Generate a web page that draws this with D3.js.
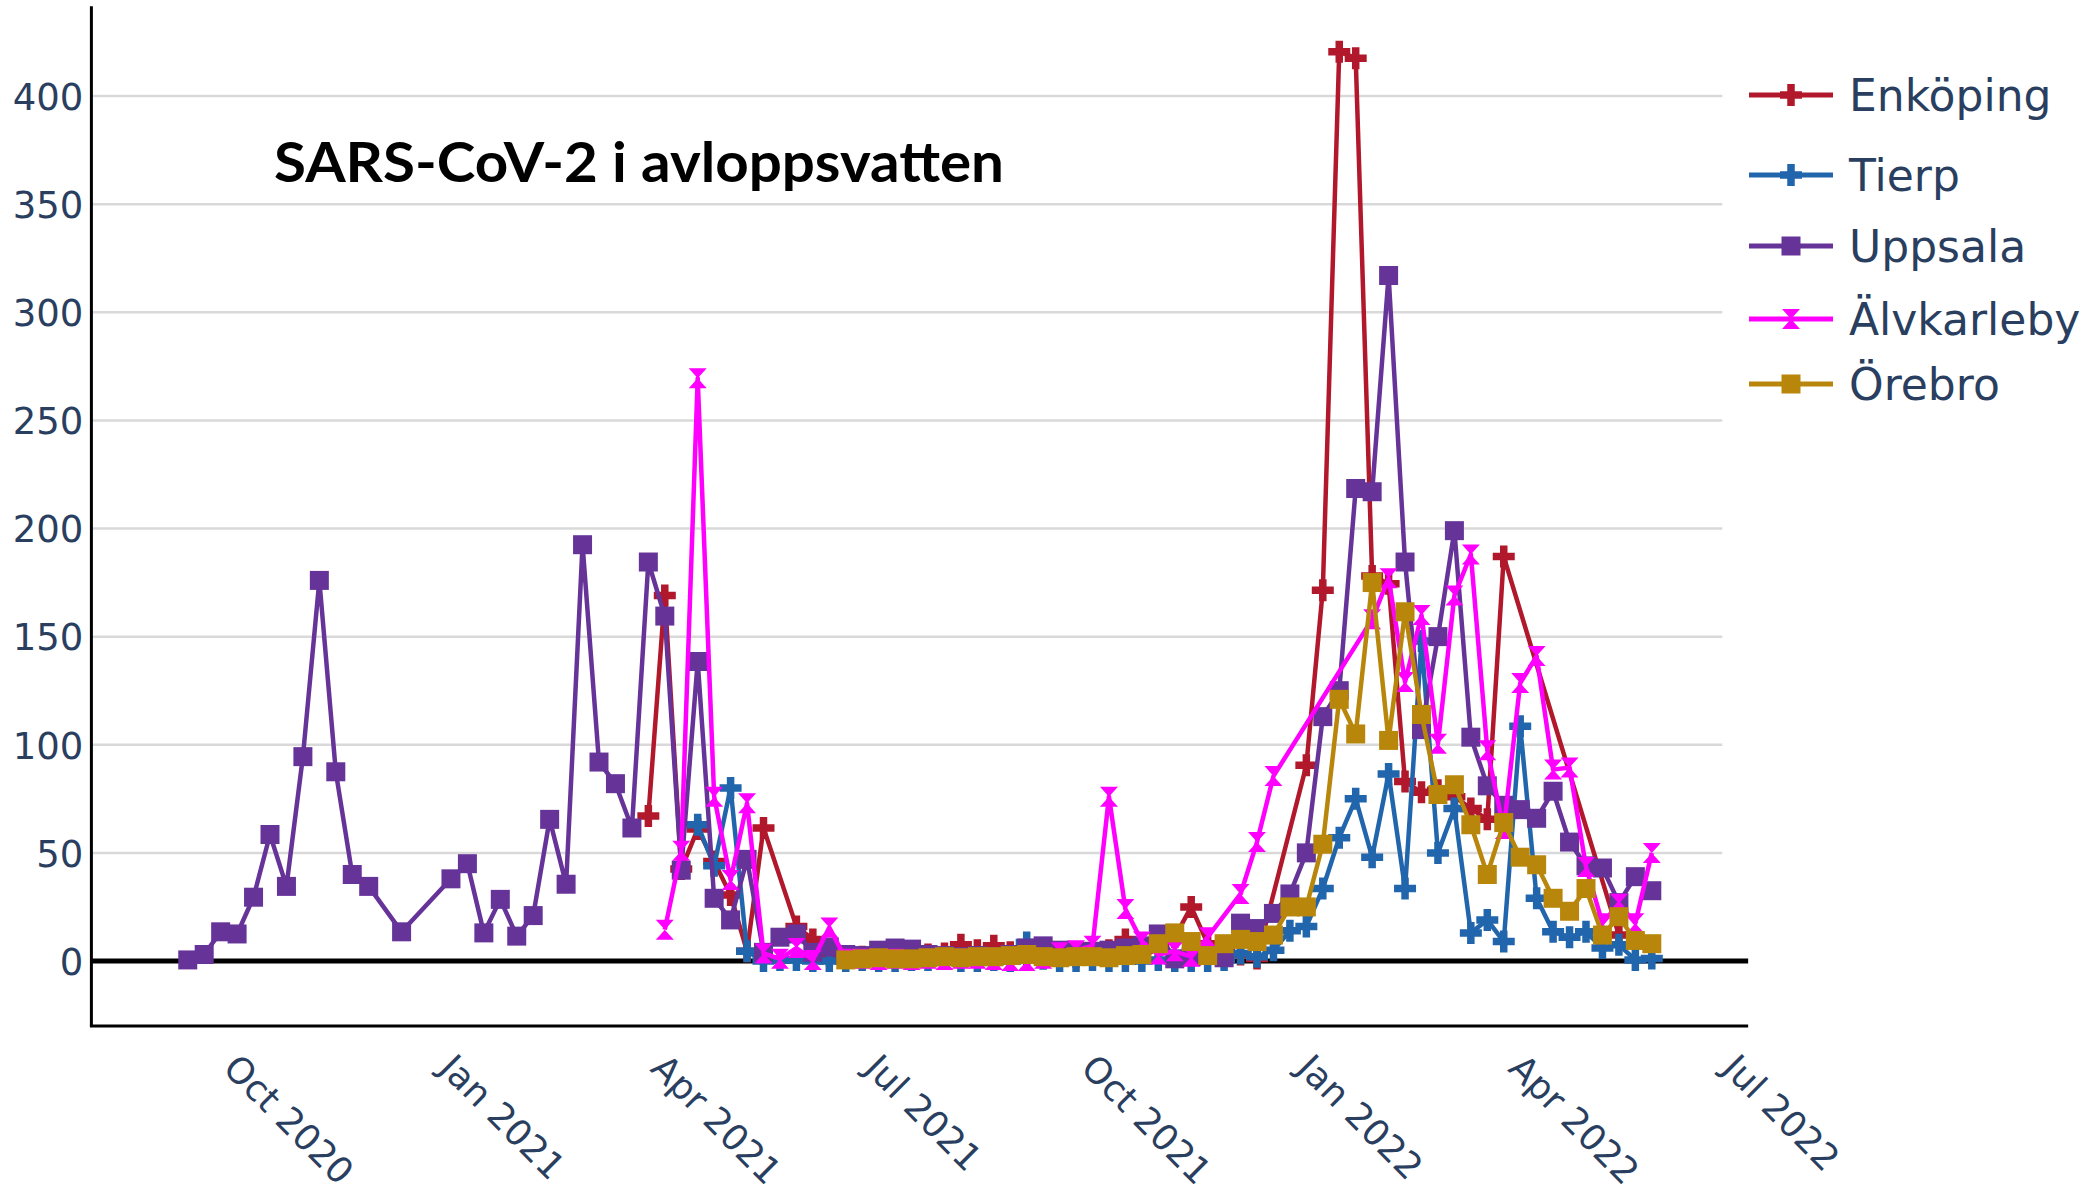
<!DOCTYPE html>
<html>
<head>
<meta charset="utf-8">
<script src="https://cdn.jsdelivr.net/npm/d3@7"></script>
<style>
  html, body { margin: 0; padding: 0; background: #ffffff; }
  svg { display: block; }
</style>
</head>
<body>
<svg id="chart" width="2100" height="1198"></svg>
<script>
const _ = null;

// weekly sample dates (categories)
const sampleDates = [
  "2020-09-16","2020-09-23","2020-09-30","2020-10-07","2020-10-14","2020-10-21","2020-10-28","2020-11-04","2020-11-11","2020-11-18",
  "2020-11-25","2020-12-02","2020-12-09","2020-12-16","2020-12-23","2020-12-30","2021-01-06","2021-01-13","2021-01-20","2021-01-27",
  "2021-02-03","2021-02-10","2021-02-17","2021-02-24","2021-03-03","2021-03-10","2021-03-17","2021-03-24","2021-03-31","2021-04-07",
  "2021-04-14","2021-04-21","2021-04-28","2021-05-05","2021-05-12","2021-05-19","2021-05-26","2021-06-02","2021-06-09","2021-06-16",
  "2021-06-23","2021-06-30","2021-07-07","2021-07-14","2021-07-21","2021-07-28","2021-08-04","2021-08-11","2021-08-18","2021-08-25",
  "2021-09-01","2021-09-08","2021-09-15","2021-09-22","2021-09-29","2021-10-06","2021-10-13","2021-10-20","2021-10-27","2021-11-03",
  "2021-11-10","2021-11-17","2021-11-24","2021-12-01","2021-12-08","2021-12-15","2021-12-22","2021-12-29","2022-01-05","2022-01-12",
  "2022-01-19","2022-01-26","2022-02-02","2022-02-09","2022-02-16","2022-02-23","2022-03-02","2022-03-09","2022-03-16","2022-03-23",
  "2022-03-30","2022-04-06","2022-04-13","2022-04-20","2022-04-27","2022-05-04","2022-05-11","2022-05-18","2022-05-25","2022-06-01"
];

const enkopingValues = [
  _, _, _, _, _, _, _, _, _, _,
  _, _, _, _, _, _, _, _, _, _,
  _, _, _, _, _, _, _, _, 67, 169,
  42.5, 61, 46, 30.5, 4.5, 61.5, _, 16, 10, 3,
  2, 2, 2.5, 3, 2, 3, 3.5, 7.5, 5, 7,
  4, 3, 3, 2.5, 2, 3, 5, 10, 5, 7,
  11, 25, 8, 4, 3, 1.2, _, _, 90.5, 171.5,
  420.5, 417.5, 178, 174.5, 83, 78, 79, 76, 70.5, 65.5,
  187, _, _, _, _, _, _, 12, _, _
];

const tierpValues = [
  _, _, _, _, _, _, _, _, _, _,
  _, _, _, _, _, _, _, _, _, _,
  _, _, _, _, _, _, _, _, _, _,
  _, 63, 44, 80, 4.5, 0, 0.5, 0.5, 0, 0,
  0, 0.5, 0, 0, 0.5, 0.5, 1, 0, 0, 0.5,
  0, 8.5, 1, 0, 0, 0.5, 0, 0, 0, 0.5,
  0, 0, 0, 0.5, 3.5, 2, 5, 14, 16, 33.5,
  57, 75, 48, 86.5, 33.5, 148, 50, 70.5, 13, 19,
  9, 108.5, 29, 13.5, 11, 13.5, 6, 7.5, 0.5, 1.2
];

const uppsalaValues = [
  0.5, 3, 13.5, 12.5, 29.5, 58.5, 34.5, 94.5, 176, 87.5,
  40, 34.5, _, 13.5, _, _, 38, 45, 13, 28.5,
  11.5, 21, 65.5, 35.5, 192.5, 92, 82, 61.5, 184.5, 159.5,
  42, 138.5, 29, 19, 47, 4, 11, 12.5, 4, 6.5,
  3, 2.5, 5, 6, 5.5, 3, 2.5, 2, 2.5, 2,
  3, 6, 7, 5, 4, 4.5, 5, 6, 7, 12.5,
  1, 2, 3, 1.5, 17.5, 15, 22, 31, 50, 113,
  125, 218.5, 217, 317, 184.5, 107, 150, 199, 103.5, 81,
  72, 70, 66, 78.5, 55, 44, 43, 27, 39, 32.5
];

const alvkarlebyValues = [
  _, _, _, _, _, _, _, _, _, _,
  _, _, _, _, _, _, _, _, _, _,
  _, _, _, _, _, _, _, _, _, 14.5,
  51, 269.5, 76, 37.5, 73, 3.5, 1, 6, 0.5, 15.5,
  1, 1, 0.5, 1, 0.5, 1, 0.5, 1, 1, 0.5,
  0, 0, 1, 4, 5, 7, 76, 24, 9, 3,
  4.5, 2, 11, _, 31, 55, 85.5, _, _, _,
  _, _, 158, 177, 129, 160, 100.5, 169, 188, 97.5,
  61, 128.5, 141, 88.5, 89.5, 43.5, 17.5, 26.5, 17.5, 50
];

const orebroValues = [
  _, _, _, _, _, _, _, _, _, _,
  _, _, _, _, _, _, _, _, _, _,
  _, _, _, _, _, _, _, _, _, _,
  _, _, _, _, _, _, _, _, _, _,
  0.5, 1, 1.5, 1, 1, 1.5, 2, 1.5, 2, 2,
  2.5, 3, 2, 1.5, 2, 2, 1.5, 2.5, 3, 8,
  13, 9, 2.5, 8, 10, 9, 12, 25, 25, 54,
  121, 105, 175, 102, 161.5, 114, 77, 81.5, 63, 40,
  64, 48, 44.5, 29, 23, 33.5, 12, 20.5, 9.5, 8
];

const seriesNames = ["Enköping", "Tierp", "Uppsala", "Älvkarleby", "Örebro"];
const seriesValues = [enkopingValues, tierpValues, uppsalaValues, alvkarlebyValues, orebroValues];

const xTickDates = ["2020-10-01","2021-01-01","2021-04-01","2021-07-01","2021-10-01","2022-01-01","2022-04-01","2022-07-01"];
const xTickLabels = ["Oct 2020","Jan 2021","Apr 2021","Jul 2021","Oct 2021","Jan 2022","Apr 2022","Jul 2022"];
const yTickValues = [0, 50, 100, 150, 200, 250, 300, 350, 400];
const titleText = "SARS-CoV-2 i avloppsvatten";

// ---- styles & layout ----
const seriesStyle = [
  { color: "#b2182b", symbol: "cross" },
  { color: "#2166ac", symbol: "cross" },
  { color: "#663399", symbol: "square" },
  { color: "#ff00ff", symbol: "hourglass" },
  { color: "#b8860b", symbol: "square" }
];
const legendRowY = [95, 175, 246, 319, 384];
const tickColor = "#2a3f5f";
const tickFont = "'DejaVu Sans', Verdana, sans-serif";

const parse = d3.utcParse("%Y-%m-%d");
const svg = d3.select("#chart");

const x = d3.scaleUtc()
  .domain([parse("2020-10-01"), parse("2022-07-01")])
  .range([223, 1722.3]);
const y = d3.scaleLinear().domain([0, 400]).range([961, 96]);

const plotLeft = x(parse("2020-08-06"));
const plotRight = x(parse("2022-07-12"));
const gridRight = x(parse("2022-07-01"));
const plotTop = y(441.5);
const plotBottom = y(-30);

// gridlines
svg.append("g").selectAll("line")
  .data(yTickValues.filter(v => v !== 0))
  .join("line")
  .attr("x1", plotLeft).attr("x2", gridRight)
  .attr("y1", d => y(d)).attr("y2", d => y(d))
  .attr("stroke", "#d9d9d9").attr("stroke-width", 2.5);

// zero line
svg.append("line")
  .attr("x1", plotLeft).attr("x2", plotRight)
  .attr("y1", y(0)).attr("y2", y(0))
  .attr("stroke", "#000").attr("stroke-width", 5);

// axis frame lines
svg.append("line")
  .attr("x1", plotLeft).attr("x2", plotLeft)
  .attr("y1", plotTop).attr("y2", plotBottom)
  .attr("stroke", "#000").attr("stroke-width", 3);
svg.append("line")
  .attr("x1", plotLeft - 1.5).attr("x2", plotRight)
  .attr("y1", plotBottom).attr("y2", plotBottom)
  .attr("stroke", "#000").attr("stroke-width", 3);

// y axis labels
const yAxis = d3.axisLeft(y).tickValues(yTickValues).tickSize(0).tickPadding(8);
const gy = svg.append("g").attr("transform", `translate(${plotLeft},0)`).call(yAxis);
gy.select(".domain").remove();
gy.selectAll("text")
  .attr("fill", tickColor)
  .attr("font-family", tickFont)
  .attr("font-size", 37)
  .attr("dy", "0.36em");

// x axis labels (rotated)
const xAxis = d3.axisBottom(x)
  .tickValues(xTickDates.map(parse))
  .tickFormat((d, i) => xTickLabels[i])
  .tickSize(0);
const gx = svg.append("g").attr("transform", "translate(0,1072)").call(xAxis);
gx.select(".domain").remove();
gx.selectAll("text")
  .attr("x", -3).attr("y", 0).attr("dy", 0)
  .attr("transform", "rotate(45)")
  .style("text-anchor", "start")
  .attr("fill", tickColor)
  .attr("font-family", tickFont)
  .attr("font-size", 36);

// marker shapes
function symbolPath(sym) {
  if (sym === "cross") {
    const s = 11, h = 3.75;
    return `M${-h},${-s}H${h}V${-h}H${s}V${h}H${h}V${s}H${-h}V${h}H${-s}V${-h}H${-h}Z`;
  }
  if (sym === "square") {
    const s = 9.5;
    return `M${-s},${-s}H${s}V${s}H${-s}Z`;
  }
  // hourglass
  return "M-9,-10H9L-9,10H9Z";
}

// series
const line = d3.line().x(d => x(d.date)).y(d => y(d.v));
seriesValues.forEach((vals, si) => {
  const st = seriesStyle[si];
  const pts = sampleDates
    .map((d, i) => ({ date: parse(d), v: vals[i] }))
    .filter(p => p.v !== null);
  const g = svg.append("g");
  g.append("path")
    .datum(pts)
    .attr("d", line)
    .attr("fill", "none")
    .attr("stroke", st.color)
    .attr("stroke-width", 4.5)
    .attr("stroke-linejoin", "round");
  g.selectAll("path.mk")
    .data(pts)
    .join("path")
    .attr("class", "mk")
    .attr("d", symbolPath(st.symbol))
    .attr("transform", d => `translate(${x(d.date)},${y(d.v)})`)
    .attr("fill", st.color);
});

// title
svg.append("text")
  .attr("x", 274).attr("y", 182)
  .attr("font-family", "Lato, 'Liberation Sans', sans-serif")
  .attr("font-weight", "bold")
  .attr("font-size", 56)
  .attr("textLength", 730)
  .attr("lengthAdjust", "spacingAndGlyphs")
  .attr("fill", "#000")
  .text(titleText);

// legend
const legend = svg.append("g");
seriesNames.forEach((name, i) => {
  const st = seriesStyle[i];
  const ly = legendRowY[i];
  legend.append("line")
    .attr("x1", 1749).attr("x2", 1833)
    .attr("y1", ly).attr("y2", ly)
    .attr("stroke", st.color).attr("stroke-width", 5);
  legend.append("path")
    .attr("d", symbolPath(st.symbol))
    .attr("transform", `translate(1791,${ly})`)
    .attr("fill", st.color);
  legend.append("text")
    .attr("x", 1849).attr("y", ly + 16)
    .attr("font-family", tickFont)
    .attr("font-size", 44)
    .attr("fill", tickColor)
    .text(name);
});
</script>
</body>
</html>
